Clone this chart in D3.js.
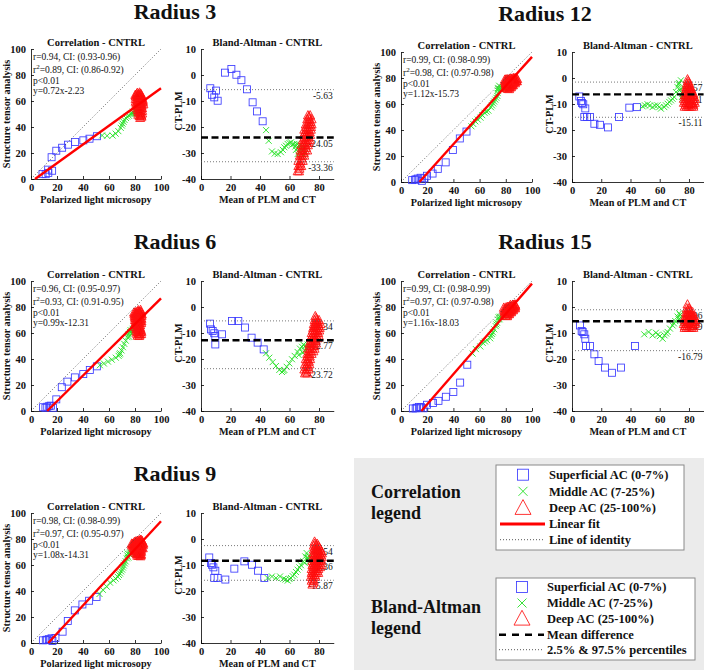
<!DOCTYPE html>
<html><head><meta charset="utf-8">
<script src="https://cdn.jsdelivr.net/npm/d3@7"></script>
<style>
body{margin:0;background:#fff}
svg{display:block}
text{font-family:"Liberation Serif","Times New Roman",serif;fill:#111}
</style></head>
<body><svg id="c" width="704" height="672"></svg>
<script>
// ---------------- DATA (Bland-Altman readings: [mean of PLM & CT, CT-PLM]) ----------------
const radiusTitles = ["Radius 3", "Radius 12", "Radius 6", "Radius 15", "Radius 9"];
const statR  = ["r=0.94, CI: (0.93-0.96)", "r=0.99, CI: (0.98-0.99)", "r=0.96, CI: (0.95-0.97)", "r=0.99, CI: (0.98-0.99)", "r=0.98, CI: (0.98-0.99)"];
const statR2 = ["=0.89, CI: (0.86-0.92)", "=0.98, CI: (0.97-0.98)", "=0.93, CI: (0.91-0.95)", "=0.97, CI: (0.97-0.98)", "=0.97, CI: (0.95-0.97)"];
const statP  = ["p<0.01", "p<0.01", "p<0.01", "p<0.01", "p<0.01"];
const fitSlope     = [0.72, 1.12, 0.99, 1.16, 1.08];
const fitIntercept = [-2.23, -15.73, -12.31, -18.03, -14.31];
const meanDiff  = [-24.05, -6.31, -12.77, -5.49, -8.36];
const upperPct  = [-5.63, -1.57, -5.34, -1.06, -2.54];
const lowerPct  = [-33.36, -15.11, -23.72, -16.79, -15.87];
const corrTicks = [0, 20, 40, 60, 80, 100];
const baXTicks  = [0, 20, 40, 60, 80];
const baYTicks  = [-40, -30, -20, -10, 0, 10];

const r3Superficial = [[6.3,-5.1],[7.5,-7.6],[9.0,-8.6],[10.2,-6.0],[11.3,-9.9],[16.3,0.9],[20.6,2.3],[24,0.1],[27.4,-2.0],[31.2,-5.5],[35.0,-10.5],[38,-14],[41.8,-17.8]];
const r3Middle = [[44.1,-21.2],[45.9,-25.3],[48.1,-29.4],[50,-30.2],[52,-30.4],[54.2,-29.7],[55.5,-28.8],[56.5,-27.8],[57.6,-27.2],[58.7,-26.5],[60,-26.2],[61,-25.9],[62,-26.8],[63.3,-26.5],[64,-27.5],[64.4,-28.8],[65,-26.5],[65.5,-30.4],[66,-27.8],[66.5,-29.5],[67,-27],[67.5,-28.5],[68,-30],[68.5,-27.5],[69,-29],[69.5,-31],[70,-28],[70.5,-30]];
const r3Deep = [[65.5,-37],[66.5,-37],[66,-35],[67,-35],[68,-35],[66,-33],[67.5,-33],[69,-33],[67,-31],[68.5,-31],[70,-31],[67.5,-29],[69,-29],[70.5,-29],[72,-29],[68,-27],[69.5,-27],[71,-27],[72.5,-27],[69,-25],[70.5,-25],[72,-25],[73.5,-25],[69.5,-23],[71,-23],[72.5,-23],[74,-23],[70,-21],[71.5,-21],[73,-21],[74.5,-21],[71,-19],[72.5,-19],[74,-19],[75,-19],[72,-17],[73.5,-17],[75,-17],[72.5,-15.5],[74,-15.5],
  [66.8,-36],[67.2,-34],[68.3,-32],[68,-30],[69.8,-30],[71.2,-28],[69,-28],[70,-26],[71.7,-26],[73,-26],[70.3,-24],[71.8,-24],[73.2,-24],[70.8,-22],[72.3,-22],[73.8,-22],[71.5,-20],[73.2,-20],[74.6,-20],[72.8,-18],[74.3,-18],[73.2,-16]];

const r12Superficial = [[5.0,-7.1],[6.2,-8.8],[6.8,-9.6],[7.7,-10.1],[9.1,-11.7],[8.4,-15],[10.3,-15],[12.3,-15],[15.3,-17.6],[19.1,-18],[24.6,-19],[32.1,-15],[39.2,-11.4],[44.4,-11.2]];
const r12Middle = [[48.3,-10.9],[49.9,-10.5],[51.7,-10.1],[53.3,-10.6],[55.1,-11.2],[56.7,-10.6],[58.5,-10.5],[59.7,-11.2],[60.8,-11.8],[63.1,-11.2],[64.2,-10.5],[65.4,-9.9],[66.5,-9.2],[67.7,-8.6],[68.8,-8],[69.9,-7.3],[71.1,-5.4],[72.2,-3.5],[72.9,-2.4],[73.3,-1.9],[74.5,-0.9],[73.8,-4.7],[74.5,-4.1],[75.2,-7.3],[75.6,-6],[75.6,-8]];
const r12Deep = [[79,-0.5],[78.5,-2],[80,-2],[78,-3.5],[79.5,-3.5],[81,-3.5],[80.5,-4.2],[77.5,-5],[79,-5],[80.5,-5],[82,-5],[77,-6.5],[78.5,-6.5],[80,-6.5],[81.5,-6.5],[83,-6.5],[79,-7.2],[81,-7.2],[76.5,-8],[78,-8],[79.5,-8],[81,-8],[82.5,-8],[84,-8],[76.5,-9.5],[78,-9.5],[79.5,-9.5],[81,-9.5],[82.5,-9.5],[84,-9.5],[80,-10],[82,-10],[77,-11],[78.5,-11],[80,-11],[81.5,-11],[83,-11],
  [79.5,-1.2],[78.8,-2.8],[80.3,-2.8],[78.3,-4.3],[81.6,-4.3],[78.2,-5.8],[79.8,-5.8],[81.3,-5.8],[82.8,-5.8],[77.8,-7.3],[82.2,-7.3],[83.5,-7.3],[77.3,-8.8],[78.8,-8.8],[80.3,-8.8],[81.8,-8.8],[83.3,-8.8],[77.8,-10.3],[79.3,-10.3],[83,-10.3]];

const r6Superficial = [[6.1,-6.4],[6.8,-8.6],[7.9,-9.2],[9.0,-10.1],[9.7,-11.2],[14.2,-10.5],[9.7,-14.4],[21,-5.4],[25.3,-5.4],[29.8,-7.9],[34.3,-11.8],[38.4,-13.7],[42.5,-16.3]];
const r6Middle = [[44.1,-17.8],[46.3,-19.5],[48.6,-21.2],[50.8,-22.7],[53.1,-24.2],[54.9,-25],[55.8,-24.6],[56.5,-24.2],[58.1,-23],[59.9,-21.7],[61.7,-20.1],[63.5,-18.8],[65.5,-17.3],[67.1,-16],[68.5,-15.3],[69.4,-14.5],[70.7,-15],[71.6,-16],[70.3,-16.9],[72.3,-14.4],[69,-17.6],[66.3,-18.5],[73,-15.5]];
const r6Deep = [[77.5,-3.5],[77,-5],[78.5,-5],[80,-5],[76.5,-6.5],[78,-6.5],[79.5,-6.5],[81,-6.5],[76,-8],[77.5,-8],[79,-8],[80.5,-8],[75,-10],[76.5,-10],[78,-10],[79.5,-10],[74.5,-12],[76,-12],[77.5,-12],[79,-12],[73.5,-14],[75,-14],[76.5,-14],[78,-14],[72.5,-16],[74,-16],[75.5,-16],[77,-16],[72,-18],[73.5,-18],[75,-18],[71,-20],[72.5,-20],[74,-20],[70.5,-22],[72,-22],[73.5,-22],[70,-24],[71.5,-24],[73,-24],[70.5,-25.5],[72,-25.5],
  [78,-4.2],[77.7,-5.8],[79.3,-5.8],[76.8,-7.3],[78.3,-7.3],[79.8,-7.3],[75.8,-9],[77.3,-9],[78.8,-9],[80.2,-9],[75.3,-11],[76.8,-11],[78.3,-11],[79.8,-11],[74.7,-13],[76.2,-13],[77.8,-13],[73.8,-15],[75.3,-15],[76.8,-15],[73.2,-17],[74.7,-17],[76.2,-17],[72.3,-19],[73.8,-19],[71.8,-21],[73.2,-21],[71.2,-23],[72.7,-23],[71.2,-24.8]];

const r15Superficial = [[5.5,-7.1],[6.6,-9.2],[7.3,-9.6],[8.4,-10.5],[9.1,-12.2],[9.6,-15],[12.3,-15],[15.3,-18.2],[18.2,-20.8],[22.6,-23.3],[27.3,-25.3],[33.5,-23.3],[43.1,-15]];
const r15Middle = [[49.4,-10.5],[52.4,-9.6],[55.1,-10.9],[57.4,-9.9],[58.8,-10.6],[60.1,-11.2],[62,-12.2],[63.3,-10.9],[64.4,-10.2],[65.4,-9.6],[67,-8.3],[68.8,-7.1],[69.7,-6.3],[70.6,-5.4],[72.2,-3.7],[73.3,-2.4],[72.9,-4.7],[74.5,-4.1],[75.6,-6],[74,-3]];
const r15Deep = [[79,1],[78.5,-0.5],[80,-0.5],[78,-2],[79.5,-2],[81,-2],[82.5,-2],[77.5,-3.5],[79,-3.5],[80.5,-3.5],[82,-3.5],[83.5,-3.5],[80,-4.2],[82.5,-4.2],[77,-5],[78.5,-5],[80,-5],[81.5,-5],[83,-5],[84.5,-5],[79,-5.8],[81.5,-5.8],[76.5,-6.5],[78,-6.5],[79.5,-6.5],[81,-6.5],[82.5,-6.5],[84,-6.5],[77,-8],[78.5,-8],[80,-8],[81.5,-8],[83,-8],
  [79.2,-1.2],[80.7,-1.2],[78.7,-2.8],[80.3,-2.8],[81.8,-2.8],[78.2,-4.3],[79.7,-4.3],[81.2,-4.3],[83.8,-4.3],[77.7,-5.8],[80.2,-5.8],[82.8,-5.8],[84.2,-5.8],[77.2,-7.3],[78.7,-7.3],[80.3,-7.3],[81.8,-7.3],[83.3,-7.3]];

const r9Superficial = [[5.6,-7.1],[6.8,-9.2],[7.5,-9.9],[8.4,-10.9],[9.7,-12.2],[9.0,-15],[11.3,-15],[16.5,-15.6],[22.6,-11.4],[29.4,-8.6],[34.6,-9.9],[38.6,-12.2],[42.9,-15]];
const r9Middle = [[45.2,-15],[48.1,-14.4],[50.8,-15],[53.6,-14.4],[55.8,-15.3],[57.3,-15.6],[58.8,-16],[60,-15.4],[61,-15],[62.2,-14.3],[63.3,-13.7],[64.4,-12.7],[65.5,-11.8],[66.7,-10.9],[67.8,-10.1],[69.4,-8.6],[70.7,-6.7],[71.6,-5.4],[72.5,-7.3],[73.4,-8.6],[70.3,-9.2],[72,-8],[73,-6.5]];
const r9Deep = [[77,-1],[76.5,-2.5],[78,-2.5],[79.5,-2.5],[76.5,-4],[78,-4],[79.5,-4],[81,-4],[76,-5.5],[77.5,-5.5],[79,-5.5],[80.5,-5.5],[82,-5.5],[76,-7],[77.5,-7],[79,-7],[80.5,-7],[82,-7],[75.5,-8.5],[77,-8.5],[78.5,-8.5],[80,-8.5],[81.5,-8.5],[75.5,-10],[77,-10],[78.5,-10],[80,-10],[81.5,-10],[75,-11.5],[76.5,-11.5],[78,-11.5],[79.5,-11.5],[75,-13],[76.5,-13],[78,-13],[79.5,-13],[74.5,-14.5],[76,-14.5],[77.5,-14.5],[75,-16],[76.5,-16],[75.5,-17.5],
  [77.2,-1.8],[78.7,-1.8],[77.2,-3.3],[78.8,-3.3],[80.2,-3.3],[77.2,-4.8],[78.7,-4.8],[80.2,-4.8],[81.7,-4.8],[76.7,-6.3],[78.2,-6.3],[79.8,-6.3],[81.3,-6.3],[76.7,-7.8],[78.2,-7.8],[79.8,-7.8],[81.3,-7.8],[76.2,-9.3],[77.8,-9.3],[79.3,-9.3],[80.8,-9.3],[76.2,-10.8],[77.7,-10.8],[79.2,-10.8],[80.7,-10.8],[75.7,-12.3],[77.3,-12.3],[78.8,-12.3],[75.7,-13.8],[77.2,-13.8],[75.7,-15.3],[76.2,-16.8]];

const zoneNames = ["Superficial AC (0-7%)", "Middle AC (7-25%)", "Deep AC (25-100%)"];
const corrLegendLines = ["Linear fit", "Line of identity"];
const baLegendLines = ["Mean difference", "2.5% & 97.5% percentiles"];

// ---------------- LAYOUT ----------------
const panelData = [
  [r3Superficial, r3Middle, r3Deep],
  [r12Superficial, r12Middle, r12Deep],
  [r6Superficial, r6Middle, r6Deep],
  [r15Superficial, r15Middle, r15Deep],
  [r9Superficial, r9Middle, r9Deep]
];
const layout = [
  {cx: 175, titleY: 19, corrX: [31, 161], baX: [201, 333.75], top: 49},
  {cx: 545, titleY: 21, corrX: [401, 532], baX: [572, 703.6], top: 52},
  {cx: 175, titleY: 249, corrX: [31, 161], baX: [201, 333.75], top: 281},
  {cx: 545, titleY: 249, corrX: [401, 532], baX: [572, 703.6], top: 281},
  {cx: 175, titleY: 481, corrX: [31, 161], baX: [201, 333.75], top: 513}
];
const colors = ["#3b3bff", "#22e022", "#ff1010"];
const svg = d3.select("#c");

function marker(sel, type, size, filled) {
  if (type === 0) {
    sel.append("rect").attr("x", -size / 2).attr("y", -size / 2).attr("width", size).attr("height", size)
      .attr("fill", "none").attr("stroke", colors[0]).attr("stroke-width", 0.85);
  } else if (type === 1) {
    const h = size / 2;
    sel.append("path").attr("d", `M${-h},${-h}L${h},${h}M${-h},${h}L${h},${-h}`)
      .attr("fill", "none").attr("stroke", colors[1]).attr("stroke-width", 0.9);
  } else {
    const h = size / 2;
    sel.append("path").attr("d", `M0,${-h * 1.05}L${h},${h * 0.8}L${-h},${h * 0.8}Z`)
      .attr("fill", filled ? "#ff0000" : "none").attr("fill-opacity", filled ? 0.1 : 0)
      .attr("stroke", colors[2]).attr("stroke-width", 0.85);
  }
}

function styleAxis(g) {
  g.selectAll("path.domain").attr("stroke", "#000").attr("stroke-width", 0.8);
  g.selectAll(".tick line").attr("stroke", "#000").attr("stroke-width", 0.8);
  g.selectAll(".tick text").attr("font-family", "'Liberation Serif',serif").attr("font-size", 10.5)
    .attr("font-weight", "bold").attr("fill", "#111");
}

function drawPanel(i) {
  const L = layout[i];
  const top = L.top, bottom = L.top + 130;
  const g = svg.append("g");
  g.append("text").attr("x", L.cx).attr("y", L.titleY).attr("text-anchor", "middle")
    .attr("font-size", 22).attr("font-weight", "bold").text(radiusTitles[i]);

  const xc = d3.scaleLinear().domain([0, 100]).range(L.corrX);
  const yc = d3.scaleLinear().domain([0, 100]).range([bottom, top]);
  const xb = d3.scaleLinear().domain([0, 90]).range(L.baX);
  const yb = d3.scaleLinear().domain([-40, 10]).range([bottom, top]);
  const fmt = d => String(d);
  const msize = k => (k === 0 ? 7 : k === 1 ? 6 : 9);

  // ---- Correlation ----
  g.append("text").attr("x", (L.corrX[0] + L.corrX[1]) / 2).attr("y", top - 3.5).attr("text-anchor", "middle")
    .attr("font-size", 10.5).attr("font-weight", "bold").text("Correlation - CNTRL");
  const ax1 = g.append("g").attr("transform", `translate(0,${bottom})`)
    .call(d3.axisBottom(xc).tickValues(corrTicks).tickFormat(fmt).tickSizeInner(-3).tickSizeOuter(0).tickPadding(5));
  styleAxis(ax1);
  const ay1 = g.append("g").attr("transform", `translate(${L.corrX[0]},0)`)
    .call(d3.axisLeft(yc).tickValues(corrTicks).tickFormat(fmt).tickSizeInner(-3).tickSizeOuter(0).tickPadding(5));
  styleAxis(ay1);
  g.append("text").attr("x", (L.corrX[0] + L.corrX[1]) / 2).attr("y", bottom + 24).attr("text-anchor", "middle")
    .attr("font-size", 10.2).attr("font-weight", "bold").text("Polarized light microsopy");
  g.append("text").attr("transform", `translate(${L.corrX[0] - 21},${(top + bottom) / 2}) rotate(-90)`)
    .attr("text-anchor", "middle").attr("font-size", 10.2).attr("font-weight", "bold").text("Structure tensor analysis");

  const sx = L.corrX[0] + 2;
  const st = g.append("g").attr("font-size", 9.5);
  st.append("text").attr("x", sx).attr("y", top + 10.5).text(statR[i]);
  const t2 = st.append("text").attr("x", sx).attr("y", top + 24);
  t2.append("tspan").text("r");
  t2.append("tspan").attr("dy", -4).attr("font-size", 7).text("2");
  t2.append("tspan").attr("dy", 4).text(statR2[i]);
  st.append("text").attr("x", sx).attr("y", top + 34.5).text(statP[i]);
  const b = fitIntercept[i];
  st.append("text").attr("x", sx).attr("y", top + 45)
    .text(`y=${fitSlope[i].toFixed(2)}x${b < 0 ? "-" : "+"}${Math.abs(b).toFixed(2)}`);

  // markers (corr): PLM = mean - diff/2, CT = mean + diff/2
  panelData[i].forEach((arr, k) => {
    arr.forEach(([m, d]) => {
      const plm = m - d / 2, ct = m + d / 2;
      const s = g.append("g").attr("transform", `translate(${xc(plm)},${yc(ct)})`);
      marker(s, k, msize(k), true);
    });
  });
  g.append("line").attr("x1", xc(0)).attr("y1", yc(0)).attr("x2", xc(100)).attr("y2", yc(100))
    .attr("stroke", "#444").attr("stroke-width", 0.8).attr("stroke-dasharray", "1,2");
  const x0 = Math.max(0, -b / fitSlope[i]);
  g.append("line").attr("x1", xc(x0)).attr("y1", yc(fitSlope[i] * x0 + b))
    .attr("x2", xc(100)).attr("y2", yc(fitSlope[i] * 100 + b))
    .attr("stroke", "#ff0000").attr("stroke-width", 2.4);

  // ---- Bland-Altman ----
  g.append("text").attr("x", (L.baX[0] + L.baX[1]) / 2).attr("y", top - 3.5).attr("text-anchor", "middle")
    .attr("font-size", 10.5).attr("font-weight", "bold").text("Bland-Altman - CNTRL");
  const ax2 = g.append("g").attr("transform", `translate(0,${bottom})`)
    .call(d3.axisBottom(xb).tickValues(baXTicks).tickFormat(fmt).tickSizeInner(-3).tickSizeOuter(0).tickPadding(5));
  styleAxis(ax2);
  const ay2 = g.append("g").attr("transform", `translate(${L.baX[0]},0)`)
    .call(d3.axisLeft(yb).tickValues(baYTicks).tickFormat(fmt).tickSizeInner(-3).tickSizeOuter(0).tickPadding(5));
  styleAxis(ay2);
  g.append("text").attr("x", (L.baX[0] + L.baX[1]) / 2).attr("y", bottom + 24).attr("text-anchor", "middle")
    .attr("font-size", 10.2).attr("font-weight", "bold").text("Mean of PLM and CT");
  g.append("text").attr("transform", `translate(${L.baX[0] - 19},${(top + bottom) / 2 - 3}) rotate(-90)`)
    .attr("text-anchor", "middle").attr("font-size", 10.2).attr("font-weight", "bold").text("CT-PLM");

  [upperPct[i], meanDiff[i], lowerPct[i]].forEach(v => {
    g.append("text").attr("x", xb(90) - 1).attr("y", yb(v) + 9).attr("text-anchor", "end")
      .attr("font-size", 9.5).text(v.toFixed(2));
  });
  panelData[i].forEach((arr, k) => {
    arr.forEach(([m, d]) => {
      const s = g.append("g").attr("transform", `translate(${xb(m)},${yb(d)})`);
      marker(s, k, msize(k), true);
    });
  });
  [upperPct[i], lowerPct[i]].forEach(v => {
    g.append("line").attr("x1", xb(0)).attr("x2", xb(90)).attr("y1", yb(v)).attr("y2", yb(v))
      .attr("stroke", "#555").attr("stroke-width", 0.8).attr("stroke-dasharray", "1,2");
  });
  g.append("line").attr("x1", xb(0)).attr("x2", xb(90)).attr("y1", yb(meanDiff[i])).attr("y2", yb(meanDiff[i]))
    .attr("stroke", "#000").attr("stroke-width", 2.4).attr("stroke-dasharray", "7,3.5");
}

for (let i = 0; i < 5; i++) drawPanel(i);

// ---------------- LEGEND PANEL ----------------
const lg = svg.append("g");
lg.append("rect").attr("x", 354).attr("y", 458).attr("width", 350).attr("height", 212).attr("fill", "#ebebeb");
lg.append("text").attr("x", 371).attr("y", 498).attr("font-size", 18).attr("font-weight", "bold").text("Correlation");
lg.append("text").attr("x", 371).attr("y", 519).attr("font-size", 18).attr("font-weight", "bold").text("legend");
lg.append("text").attr("x", 371).attr("y", 613).attr("font-size", 18).attr("font-weight", "bold").text("Bland-Altman");
lg.append("text").attr("x", 371).attr("y", 634).attr("font-size", 18).attr("font-weight", "bold").text("legend");

function legendBox(x, y, w, h, rowYs, markX, textX, lineTypes, lineLabels) {
  lg.append("rect").attr("x", x).attr("y", y).attr("width", w).attr("height", h)
    .attr("fill", "#fff").attr("stroke", "#8a8a8a").attr("stroke-width", 1);
  zoneNames.forEach((name, k) => {
    const s = lg.append("g").attr("transform", `translate(${markX},${rowYs[k]})`);
    marker(s, k, k === 0 ? 11 : k === 1 ? 9 : 16, false);
    lg.append("text").attr("x", textX).attr("y", rowYs[k] + 4.3).attr("font-size", 12.5).attr("font-weight", "bold").text(name);
  });
  lineLabels.forEach((name, j) => {
    const yy = rowYs[3 + j];
    const t = lineTypes[j];
    lg.append("line").attr("x1", markX - 23).attr("x2", markX + 22).attr("y1", yy).attr("y2", yy)
      .attr("stroke", t.c).attr("stroke-width", t.w).attr("stroke-dasharray", t.d);
    lg.append("text").attr("x", textX).attr("y", yy + 4.3).attr("font-size", 12.5).attr("font-weight", "bold").text(name);
  });
}
legendBox(496, 465, 188, 85, [474.7, 491.3, 508, 524, 539.7], 523, 549,
  [{c: "#ff0000", w: 3, d: null}, {c: "#444", w: 0.9, d: "1,2"}], corrLegendLines);
legendBox(496, 578, 199, 82, [587, 603, 618.7, 634.7, 649.7], 522, 547,
  [{c: "#000", w: 2.6, d: "7,6"}, {c: "#444", w: 0.9, d: "1,2"}], baLegendLines);
</script>
</body></html>
